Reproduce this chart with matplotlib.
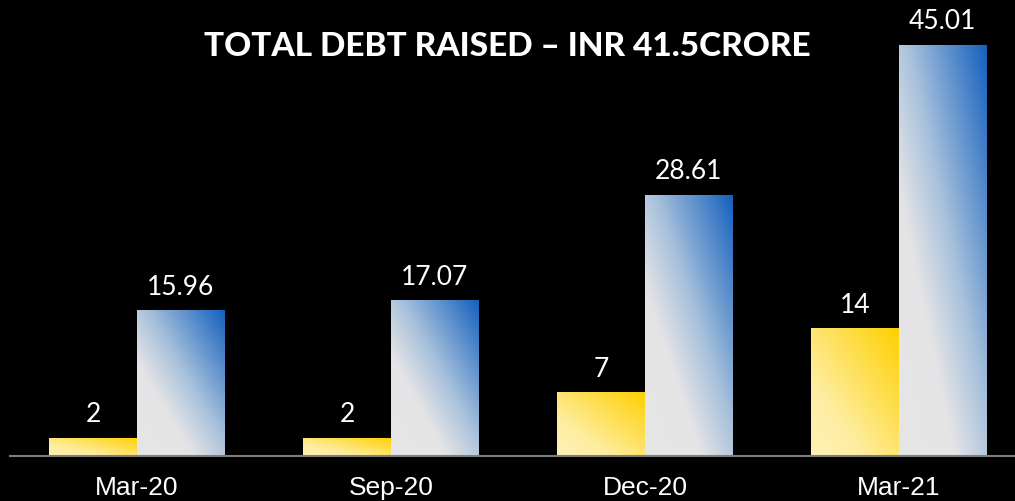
import matplotlib
matplotlib.use("Agg")
import matplotlib.pyplot as plt
import numpy as np
from matplotlib.colors import LinearSegmentedColormap

# chart data
periods = ["Mar-20", "Sep-20", "Dec-20", "Mar-21"]
series_a = [2, 2, 7, 14]
series_b = [15.96, 17.07, 28.61, 45.01]
labels_a = ["2", "2", "7", "14"]
labels_b = ["15.96", "17.07", "28.61", "45.01"]
title = "TOTAL DEBT RAISED – INR 41.5CRORE"

yellow = LinearSegmentedColormap.from_list(
    "yel", [(0, "#FFF1B6"), (0.3, "#FEEDA0"), (1, "#FFD000")])
blue = LinearSegmentedColormap.from_list(
    "blu", [(0, "#E6E6E6"), (0.32, "#E4E4E6"), (0.55, "#A9C2DC"), (1, "#1460BE")])

fig = plt.figure(figsize=(10.15, 5.02), dpi=100, facecolor="black")
ax = fig.add_axes([10 / 1015, 45 / 502, 1016 / 1015, 457 / 502])
ax.set_facecolor("black")

x = np.arange(len(periods))
w = 0.345
bars_a = ax.bar(x - w / 2, series_a, w, color="none", edgecolor="none")
bars_b = ax.bar(x + w / 2, series_b, w, color="none", edgecolor="none")

# diagonal gradient (bottom-left -> top-right) clipped to each bar
n = 200
u, v = np.meshgrid(np.linspace(0, 1, n), np.linspace(0, 1, n))
grad = (u + v) / 2
for bars, cmap in [(bars_a, yellow), (bars_b, blue)]:
    for b in bars:
        x0, y0 = b.get_x(), b.get_y()
        im = ax.imshow(grad, cmap=cmap, vmin=0, vmax=1, origin="lower",
                       extent=[x0, x0 + b.get_width(), y0, y0 + b.get_height()],
                       aspect="auto", interpolation="bilinear", zorder=2)
        im.set_clip_path(b)

for bars, labs in [(bars_a, labels_a), (bars_b, labels_b)]:
    for b, t in zip(bars, labs):
        ax.text(b.get_x() + b.get_width() / 2, b.get_height() + 1.25, t,
                ha="center", va="bottom", color="white", fontsize=19,
                family="Lato")

ax.set_xlim(-0.5, 3.5)
ax.set_ylim(0, 50)
ax.set_xticks(x)
ax.set_xticklabels(periods, color="white", fontsize=19, family="Liberation Sans")
ax.tick_params(axis="x", length=0, pad=14)
ax.set_yticks([])
for s in ["top", "right", "left"]:
    ax.spines[s].set_visible(False)
ax.spines["bottom"].set_color("#7F7F7F")
ax.spines["bottom"].set_linewidth(1.5)

fig.text(507 / 1015, 1 - 46 / 502, title, ha="center", va="center",
         color="white", fontsize=24, fontweight="black", family="Lato")

fig.savefig("out.png", dpi=100, facecolor="black")
